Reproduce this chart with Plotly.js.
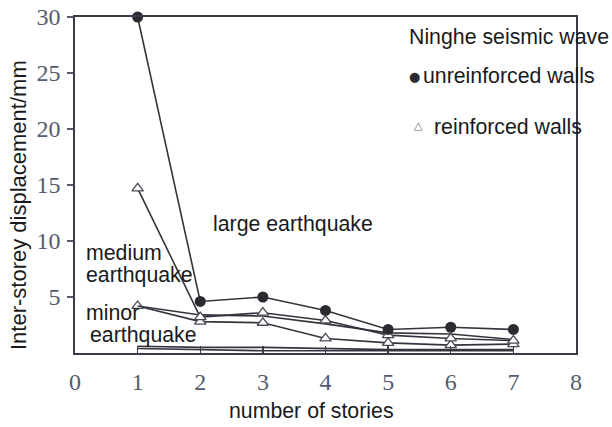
<!DOCTYPE html>
<html>
<head>
<meta charset="utf-8">
<script src="https://cdn.plot.ly/plotly-3.0.1.min.js"></script>
<style>html,body{margin:0;padding:0;background:#fff;}#chart{width:612px;height:427px;}</style>
</head>
<body>
<div id="chart"></div>
<script>
// Data
const stories = [1, 2, 3, 4, 5, 6, 7];
const largeUnreinforced  = [30.0, 4.6, 5.0, 3.8, 2.1, 2.3, 2.1];
const largeReinforced    = [14.7, 3.2, 3.6, 2.9, 1.6, 1.3, 1.1];
const mediumUnreinforced = [4.2, 3.4, 3.3, 2.6, 1.8, 1.7, 1.2];
const mediumReinforced   = [4.2, 2.8, 2.7, 1.3, 0.9, 0.7, 0.8];
const minorUnreinforced  = [0.6, 0.5, 0.5, 0.4, 0.3, 0.3, 0.3];
const minorReinforced    = [0.4, 0.3, 0.2, 0.2, 0.2, 0.2, 0.2];
const xTicks = [0, 1, 2, 3, 4, 5, 6, 7, 8];
const yTicks = [5, 10, 15, 20, 25, 30];

const lineColor = '#34343f';
const dot = {symbol: 'circle', size: 11, color: '#2a2a30', line: {width: 0}};
const tri = {symbol: 'triangle-up', size: 10, color: '#ffffff', line: {width: 1.3, color: '#4a4a55'}};

function tr(y, mode, marker) {
  const t = {x: stories, y: y, type: 'scatter', mode: mode,
          line: {color: lineColor, width: 1.6}, showlegend: false, cliponaxis: false, hoverinfo: 'skip'};
  if (marker) t.marker = marker;
  return t;
}

const data = [
  tr(minorReinforced, 'lines'),
  tr(minorUnreinforced, 'lines'),
  tr(mediumReinforced, 'lines+markers', tri),
  tr(mediumUnreinforced, 'lines'),
  tr(largeReinforced, 'lines+markers', tri),
  tr(largeUnreinforced, 'lines+markers', dot)
];

const txt = {family: 'Liberation Sans, Arial, sans-serif', size: 21.3, color: '#1a1a1a'};
function ann(text, x, y, extra) {
  return Object.assign({text: text, x: x, y: y, xref: 'x', yref: 'y', xanchor: 'left', yanchor: 'middle',
    showarrow: false, font: txt, align: 'left'}, extra || {});
}

const layout = {
  width: 612, height: 427,
  margin: {l: 75, r: 36, t: 17, b: 74},
  paper_bgcolor: '#ffffff', plot_bgcolor: '#ffffff',
  xaxis: {range: [0, 8], tickvals: xTicks, ticktext: xTicks.map(String),
    showline: true, mirror: true, linecolor: '#3a3a48', linewidth: 1.6,
    ticks: 'inside', ticklen: 7, tickcolor: '#3a3a48', tickwidth: 1.3,
    showgrid: false, zeroline: false, ticklabelstandoff: 7,
    tickfont: {family: 'Liberation Serif, Times New Roman, serif', size: 24, color: '#555b6e'}},
  yaxis: {range: [0, 30], tickvals: yTicks, ticktext: yTicks.map(String),
    showline: true, mirror: true, linecolor: '#3a3a48', linewidth: 1.6,
    ticks: 'outside', ticklen: 6, tickcolor: '#555b6e', tickwidth: 1.3,
    showgrid: false, zeroline: false, ticklabelstandoff: 2,
    tickfont: {family: 'Liberation Serif, Times New Roman, serif', size: 24, color: '#555b6e'}},
  annotations: [
    ann('Ninghe seismic wave', 5.3, 28.2),
    ann('●', 5.3, 24.7, {font: {family: 'DejaVu Sans', size: 13, color: '#2a2a30'}}),
    ann('unreinforced walls', 5.52, 24.7),
    ann('△', 5.38, 20.3, {font: {family: 'DejaVu Sans', size: 11, color: '#6a6a78'}}),
    ann('reinforced walls', 5.7, 20.2),
    ann('large earthquake', 2.17, 11.5),
    ann('medium', 0.14, 8.9),
    ann('earthquake', 0.14, 6.95),
    ann('minor', 0.14, 3.55),
    ann('earthquake', 0.2, 1.6),
    {text: 'Inter-storey displacement/mm', xref: 'paper', yref: 'paper', x: -0.114, y: 0.44,
     textangle: -90, showarrow: false, xanchor: 'center', yanchor: 'middle',
     font: Object.assign({}, txt, {size: 22})},
    {text: 'number of stories', xref: 'paper', yref: 'paper', x: 0.473, y: -0.173,
     showarrow: false, xanchor: 'center', yanchor: 'middle', font: txt}
  ]
};

Plotly.newPlot('chart', data, layout, {staticPlot: true, displayModeBar: false});
</script>
</body>
</html>
